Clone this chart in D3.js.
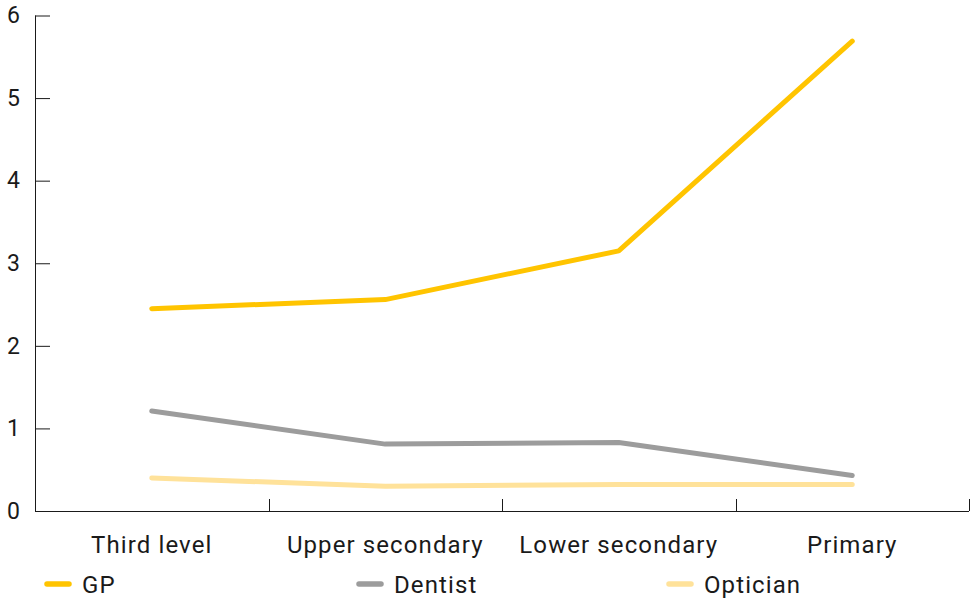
<!DOCTYPE html>
<html><head><meta charset="utf-8">
<script src="https://cdn.jsdelivr.net/npm/d3@7"></script>
<style>
html,body{margin:0;padding:0;background:#fff;}
svg text{font-family:Roboto,"DejaVu Sans",sans-serif;fill:#1a1a1a;}
</style></head>
<body>
<svg id="chart" width="975" height="601"></svg>
<script>
const categories = ["Third level", "Upper secondary", "Lower secondary", "Primary"];
const gpValues = [2.45, 2.56, 3.15, 5.69];
const dentistValues = [1.21, 0.81, 0.83, 0.43];
const opticianValues = [0.40, 0.30, 0.32, 0.32];
const seriesNames = ["GP", "Dentist", "Optician"];
const seriesColors = ["#ffc400", "#9c9c9c", "#ffe29a"];
const yTicks = [0, 1, 2, 3, 4, 5, 6];

const series = [gpValues, dentistValues, opticianValues].map((v, i) => ({name: seriesNames[i], color: seriesColors[i], values: v}));

const svg = d3.select("#chart");
const margin = {left: 35, right: 6, top: 15.5, bottom: 90};
const W = 975, H = 601;
const x = d3.scaleBand().domain(categories).range([margin.left, W - margin.right]);
const y = d3.scaleLinear().domain([0, 6]).range([H - margin.bottom, margin.top]);

const fontSize = "24px";
const spacing = "1.1px";
const axisColor = "#1a1a1a";

// y axis
const yAxis = svg.append("g").attr("transform", `translate(${margin.left},0)`)
  .call(d3.axisRight(y).tickValues(yTicks).tickSize(15).tickFormat(d3.format("d")));
yAxis.select(".domain").attr("stroke", axisColor).attr("d", `M0.5,${y(6)}V${y(0)}`);
yAxis.selectAll(".tick line").attr("stroke", axisColor);
yAxis.selectAll(".tick text").attr("x", -15).attr("dy", "0.62em").attr("y", -7)
  .attr("text-anchor", "end").style("font-size", "23px").attr("fill", axisColor);

// x axis
const xAxis = svg.append("g").attr("transform", `translate(0,${y(0)})`);
xAxis.append("line").attr("x1", margin.left).attr("x2", W - margin.right)
  .attr("y1", 0.5).attr("y2", 0.5).attr("stroke", axisColor);
const boundaries = categories.map(c => x(c) + x.bandwidth());
xAxis.selectAll("line.xt").data(boundaries).join("line").attr("class", "xt")
  .attr("x1", d => Math.round(d) + 0.5).attr("x2", d => Math.round(d) + 0.5)
  .attr("y1", 0).attr("y2", -12).attr("stroke", axisColor);
xAxis.selectAll("text").data(categories).join("text")
  .attr("x", d => x(d) + x.bandwidth() / 2).attr("y", 42)
  .attr("text-anchor", "middle").style("font-size", fontSize).style("letter-spacing", spacing).text(d => d);

// lines
const line = d3.line().x((d, i) => x(categories[i]) + x.bandwidth() / 2).y(d => y(d));
svg.selectAll("path.series").data(series.slice().reverse()).join("path").attr("class", "series")
  .attr("d", d => line(d.values)).attr("fill", "none").attr("stroke", d => d.color)
  .attr("stroke-width", 5).attr("stroke-linecap", "round").attr("stroke-linejoin", "round");

// legend
const legendX = [45, 357, 667];
const lg = svg.append("g").selectAll("g").data(series).join("g")
  .attr("transform", (d, i) => `translate(${legendX[i]},584)`);
lg.append("line").attr("x1", 2).attr("x2", 24).attr("y1", 0).attr("y2", 0)
  .attr("stroke", d => d.color).attr("stroke-width", 5.5).attr("stroke-linecap", "round");
lg.append("text").attr("x", 37).attr("y", 8.5).style("font-size", fontSize).style("letter-spacing", spacing).text(d => d.name);
</script>
</body></html>
